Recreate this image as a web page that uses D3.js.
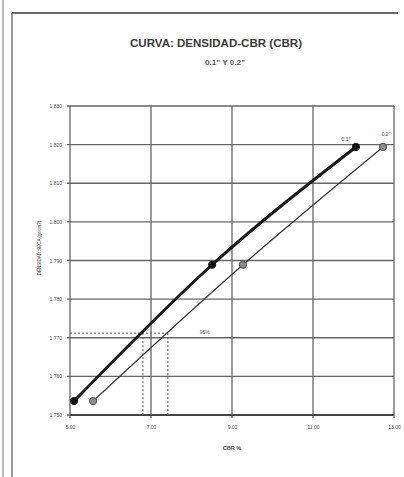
<!DOCTYPE html>
<html>
<head>
<meta charset="utf-8">
<script src="https://cdn.jsdelivr.net/npm/d3@7/dist/d3.min.js"></script>
<style>
  html, body { margin: 0; padding: 0; background: #fff; }
  svg { display: block; }
</style>
</head>
<body>
<svg id="chart" width="404" height="477"></svg>
<script>
// Ensayo CBR: densidad seca vs CBR para penetraciones de 0.1" y 0.2"
const seriesNames = ["0.1\"", "0.2\""];
const densidad = [1.7536, 1.7889, 1.8194];      // g/cm3 por espécimen
const cbr01 = [5.10, 8.51, 12.06];              // CBR % a 0.1"
const cbr02 = [5.57, 9.27, 12.73];              // CBR % a 0.2"
const densidad95 = [1.7712];                    // 95 % de la densidad máxima
const yTicks = [1.750, 1.760, 1.770, 1.780, 1.790, 1.800, 1.810, 1.820, 1.830];
const xTicks = [5, 7, 9, 11, 13];

const svg = d3.select("#chart");
const W = 404, H = 477;
const m = { left: 70, right: 10, top: 106, bottom: 62 };

const x = d3.scaleLinear().domain([5, 13]).range([m.left, W - m.right]);
const y = d3.scaleLinear().domain([1.750, 1.830]).range([H - m.bottom, m.top]);

// sheet borders
svg.append("line").attr("x1", 3).attr("x2", 3).attr("y1", 0).attr("y2", H)
  .attr("stroke", "#8a8a8a").attr("stroke-width", 1.2);
svg.append("line").attr("x1", 12).attr("x2", 12).attr("y1", 13).attr("y2", H)
  .attr("stroke", "#6e6e6e").attr("stroke-width", 1.4);
svg.append("line").attr("x1", 12).attr("x2", 398).attr("y1", 13).attr("y2", 13)
  .attr("stroke", "#6a6a6a").attr("stroke-width", 1.8);

// titles
svg.append("text").attr("x", 216).attr("y", 47)
  .attr("text-anchor", "middle")
  .attr("font-family", "'Liberation Sans Narrow', 'Arial Narrow', 'Liberation Sans', sans-serif")
  .attr("font-weight", "bold").attr("font-size", 10).attr("fill", "#3a3a3a")
  .attr("textLength", 172).attr("lengthAdjust", "spacingAndGlyphs")
  .text("CURVA: DENSIDAD-CBR (CBR)");
svg.append("text").attr("x", 225).attr("y", 65)
  .attr("text-anchor", "middle")
  .attr("font-family", "'Liberation Sans', sans-serif")
  .attr("font-weight", "bold").attr("font-size", 7).attr("fill", "#555")
  .attr("textLength", 40).attr("lengthAdjust", "spacingAndGlyphs")
  .text("0.1\"  Y  0.2\"");

// grid
const g = svg.append("g");
g.selectAll("line.h").data(yTicks).join("line")
  .attr("x1", m.left - 3).attr("x2", W - m.right)
  .attr("y1", d => y(d)).attr("y2", d => y(d))
  .attr("stroke", "#666").attr("stroke-width", 1.3);
g.selectAll("line.v").data(xTicks).join("line")
  .attr("x1", d => x(d)).attr("x2", d => x(d))
  .attr("y1", m.top).attr("y2", H - m.bottom + 3)
  .attr("stroke", "#666").attr("stroke-width", 1.3);
// bottom axis line (heavier)
g.append("line").attr("x1", m.left).attr("x2", W - m.right)
  .attr("y1", y(1.750)).attr("y2", y(1.750))
  .attr("stroke", "#444").attr("stroke-width", 1.8);

// tick labels
const yAxis = d3.axisLeft(y).tickValues(yTicks).tickSize(0).tickPadding(8)
  .tickFormat(d3.format(".3f"));
svg.append("g").attr("transform", `translate(${m.left},0)`).call(yAxis)
  .call(a => a.select(".domain").remove())
  .selectAll("text").attr("font-family", "'Liberation Sans', sans-serif")
  .attr("font-size", 5).attr("fill", "#444");
const xAxis = d3.axisBottom(x).tickValues(xTicks).tickSize(0).tickPadding(10)
  .tickFormat(d3.format(".2f"));
svg.append("g").attr("transform", `translate(0,${H - m.bottom})`).call(xAxis)
  .call(a => a.select(".domain").remove())
  .selectAll("text").attr("font-family", "'Liberation Sans', sans-serif")
  .attr("font-size", 5).attr("fill", "#444");

// axis titles
svg.append("text").attr("transform", `translate(41,${248}) rotate(-90)`)
  .attr("text-anchor", "middle")
  .attr("font-family", "'Liberation Sans', sans-serif")
  .attr("font-size", 4.5).attr("fill", "#333")
  .text("DENSIDAD SECA (gr/cm3)");
svg.append("text").attr("x", 232).attr("y", 450)
  .attr("text-anchor", "middle")
  .attr("font-family", "'Liberation Sans', sans-serif")
  .attr("font-weight", "bold").attr("font-size", 5.5).attr("fill", "#444")
  .text("CBR %");

// CBR at 95 % density, interpolated along each polyline
function cbrAt(dens, cbr, target) {
  for (let i = 0; i < dens.length - 1; i++) {
    if (target >= dens[i] && target <= dens[i + 1]) {
      const t = (target - dens[i]) / (dens[i + 1] - dens[i]);
      return cbr[i] + t * (cbr[i + 1] - cbr[i]);
    }
  }
  return cbr[0];
}
const d95 = densidad95[0];
const cbr95 = [cbrAt(densidad, cbr01, d95), cbrAt(densidad, cbr02, d95)];

const dash = svg.append("g").attr("stroke", "#555").attr("stroke-width", 1)
  .attr("stroke-dasharray", "2,2").attr("fill", "none");
dash.append("line").attr("x1", m.left).attr("x2", x(cbr95[1]))
  .attr("y1", y(d95)).attr("y2", y(d95));
dash.selectAll("line.vd").data(cbr95).join("line")
  .attr("x1", d => x(d)).attr("x2", d => x(d))
  .attr("y1", y(d95)).attr("y2", y(1.750));
svg.append("text").attr("x", x(cbr95[1]) + 37).attr("y", y(d95) + 1)
  .attr("text-anchor", "middle")
  .attr("font-family", "'Liberation Sans', sans-serif")
  .attr("font-size", 5).attr("fill", "#555").text("95%");

// curves
const line = d3.line().x(d => x(d[0])).y(d => y(d[1])).curve(d3.curveMonotoneX);
const pts01 = cbr01.map((c, i) => [c, densidad[i]]);
const pts02 = cbr02.map((c, i) => [c, densidad[i]]);

svg.append("path").attr("d", line(pts02)).attr("fill", "none")
  .attr("stroke", "#3a3a3a").attr("stroke-width", 1.3);
svg.append("path").attr("d", line(pts01)).attr("fill", "none")
  .attr("stroke", "#1a1a1a").attr("stroke-width", 3);

svg.selectAll("circle.s2").data(pts02).join("circle")
  .attr("cx", d => x(d[0])).attr("cy", d => y(d[1])).attr("r", 3.6)
  .attr("fill", "#8d8d8d").attr("stroke", "#4a4a4a").attr("stroke-width", 1);
svg.selectAll("circle.s1").data(pts01).join("circle")
  .attr("cx", d => x(d[0])).attr("cy", d => y(d[1])).attr("r", 4)
  .attr("fill", "#111");

// series labels at the last point
const lastPts = [pts01[pts01.length - 1], pts02[pts02.length - 1]];
svg.selectAll("text.sl").data(lastPts).join("text")
  .attr("x", (d, i) => x(d[0]) + (i === 0 ? -10 : 3))
  .attr("y", (d, i) => y(d[1]) - (i === 0 ? 6 : 11))
  .attr("text-anchor", "middle")
  .attr("font-family", "'Liberation Sans', sans-serif")
  .attr("font-size", 5).attr("fill", "#444")
  .text((d, i) => seriesNames[i]);
</script>
</body>
</html>
